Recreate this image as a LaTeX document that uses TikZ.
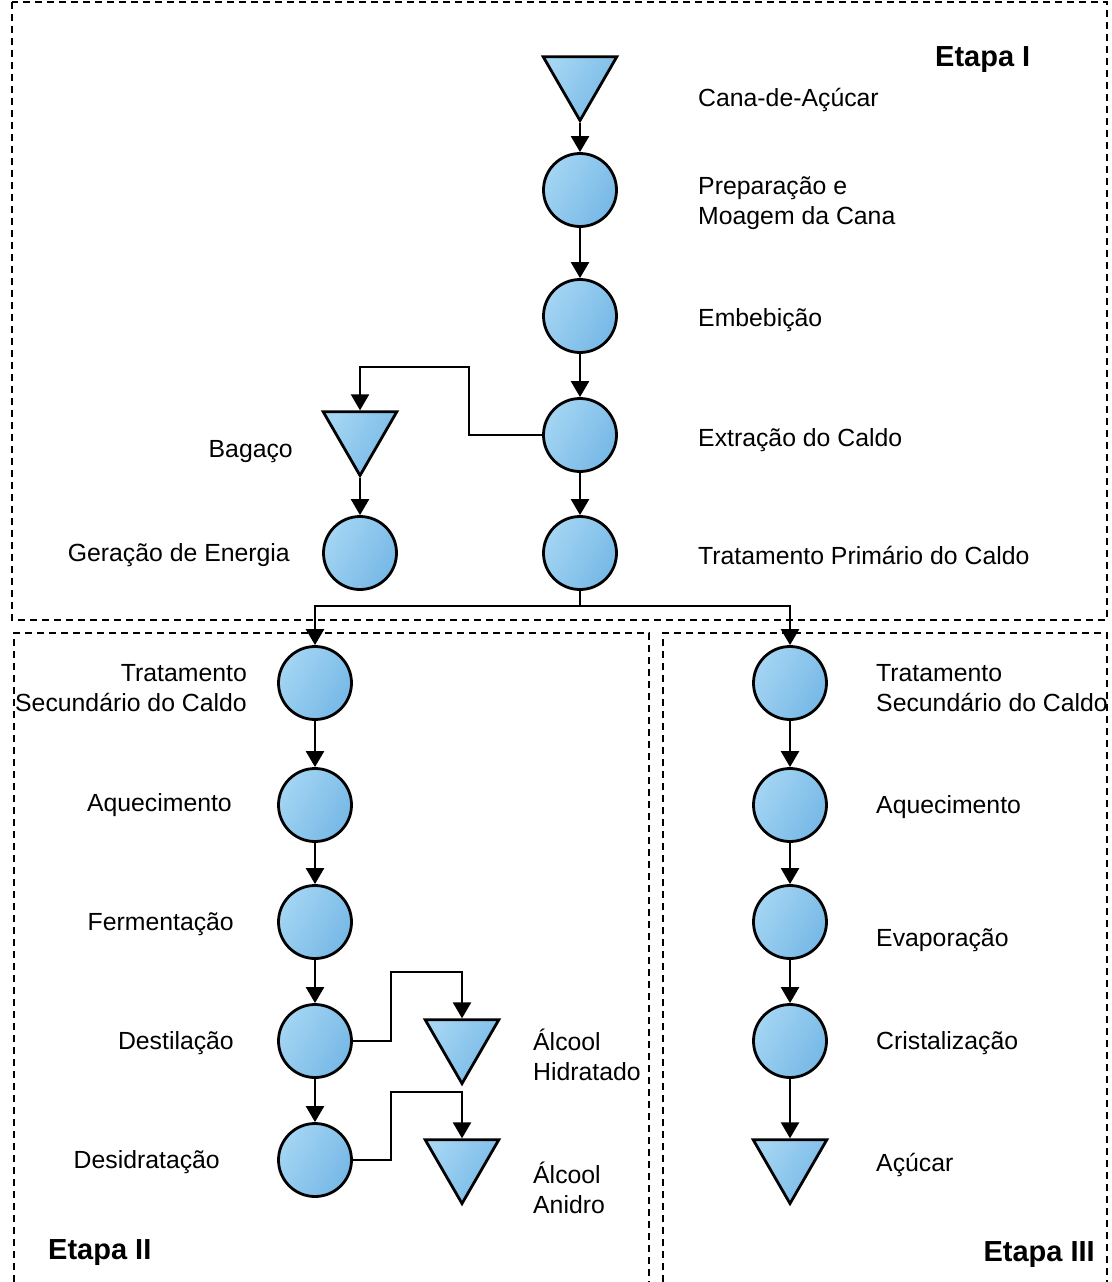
\documentclass[tikz,border=0pt]{standalone}
\usepackage{fontspec}
\setmainfont{Liberation Sans}
\usetikzlibrary{shapes.geometric,arrows.meta,positioning}
\definecolor{myblue}{RGB}{118,184,230}
\definecolor{mylightblue}{RGB}{164,213,243}

\begin{document}
\begin{tikzpicture}[x=1pt,y=-1pt,
  proc/.style={circle,draw,line width=2.8pt,minimum size=73pt,inner sep=0pt,
    left color=mylightblue,right color=myblue,shading angle=60},
  stock/.style={regular polygon,regular polygon sides=3,shape border rotate=180,
    draw,line width=2.8pt,minimum size=85pt,inner sep=0pt,
    left color=mylightblue,right color=myblue,shading angle=60},
  arr/.style={-{Triangle[width=18pt,length=16pt]},line width=2.4pt},
  lbl/.style={font=\fontsize{24.8}{30}\selectfont,align=left,anchor=west,inner sep=0pt},
  rlbl/.style={font=\fontsize{24.8}{30}\selectfont,align=right,anchor=east,inner sep=0pt},
  etapa/.style={font=\fontsize{29}{32}\selectfont\bfseries,inner sep=0pt},
  box/.style={dash pattern=on 7pt off 5pt,line width=2.4pt}]

  \useasboundingbox (0,0) rectangle (1111,1282);

  % dashed frames of the stages
  \draw[box] (12,2) rectangle (1107,620);
  \draw[box] (14,1282) |- (649,633) -- (649,1282);
  \draw[box] (663,1282) |- (1107,633) -- (1107,1282);

  % Etapa I
  \node[stock] (cana) at (580,78) {};
  \node[proc] (prep) at (580,190) {};
  \node[proc] (emb) at (580,316) {};
  \node[proc] (extr) at (580,435) {};
  \node[proc] (tp) at (580,553) {};
  \node[stock] (bag) at (360,433) {};
  \node[proc] (ger) at (360,553) {};

  \node[lbl] (l-cana) at (698,100) {Cana-de-Açúcar};
  \node[lbl] (l-prep) at (698,203) {Preparação e\\Moagem da Cana};
  \node[lbl] (l-emb) at (698,320) {Embebição};
  \node[lbl] (l-extr) at (698,440) {Extração do Caldo};
  \node[lbl] (l-tp) at (698,555) {Tratamento Primário do Caldo};
  \node[rlbl] (l-bag) at (293,452) {Bagaço};
  \node[rlbl] (l-ger) at (290,555) {Geração de Energia};
  \node[etapa,anchor=west] (e1) at (935,60) {Etapa I};

  % Etapa II
  \node[proc] (ts1) at (315,683) {};
  \node[proc] (aq1) at (315,805) {};
  \node[proc] (ferm) at (315,922) {};
  \node[proc] (dest) at (315,1041) {};
  \node[proc] (desid) at (315,1160) {};
  \node[stock] (ah) at (462,1041) {};
  \node[stock] (aa) at (462,1161) {};

  \node[rlbl] (l-ts1) at (247,688) {Tratamento\\Secundário do Caldo};
  \node[rlbl] (l-aq1) at (232,805) {Aquecimento};
  \node[rlbl] (l-ferm) at (234,924) {Fermentação};
  \node[rlbl] (l-dest) at (234,1043) {Destilação};
  \node[rlbl] (l-desid) at (220,1162) {Desidratação};
  \node[lbl] (l-ah) at (533,1055) {Álcool\\Hidratado};
  \node[lbl] (l-aa) at (533,1188) {Álcool\\Anidro};
  \node[etapa,anchor=west] (e2) at (48,1253) {Etapa II};

  % Etapa III
  \node[proc] (ts2) at (790,683) {};
  \node[proc] (aq2) at (790,805) {};
  \node[proc] (evap) at (790,922) {};
  \node[proc] (crist) at (790,1041) {};
  \node[stock] (acu) at (790,1161) {};

  \node[lbl] (l-ts2) at (876,688) {Tratamento\\Secundário do Caldo};
  \node[lbl] (l-aq2) at (876,807) {Aquecimento};
  \node[lbl] (l-evap) at (876,940) {Evaporação};
  \node[lbl] (l-crist) at (876,1043) {Cristalização};
  \node[lbl] (l-acu) at (876,1165) {Açúcar};
  \node[etapa,anchor=east] (e3) at (1095,1255) {Etapa III};

  % main line
  \draw[arr] (cana) -- (prep);
  \draw[arr] (prep) -- (emb);
  \draw[arr] (emb) -- (extr);
  \draw[arr] (extr) -- (tp);
  \draw[arr] (extr.west) -- ++(-73,0) |- ([yshift=66pt]bag.center) -- (bag);
  \draw[arr] (bag) -- (ger);

  % split to the two lines
  \coordinate (split) at ([yshift=-15pt]tp.south);
  \draw[line width=2.4pt] (tp) -- (split);
  \draw[arr] (split) -| (ts1.north);
  \draw[arr] (split) -| (ts2.north);

  % alcohol line
  \draw[arr] (ts1) -- (aq1);
  \draw[arr] (aq1) -- (ferm);
  \draw[arr] (ferm) -- (dest);
  \draw[arr] (dest) -- (desid);
  \draw[arr] (dest.east) -- ++(38,0) |- ([yshift=69pt]ah.center) -- (ah);
  \draw[arr] (desid.east) -- ++(38,0) |- ([yshift=69pt]aa.center) -- (aa);

  % sugar line
  \draw[arr] (ts2) -- (aq2);
  \draw[arr] (aq2) -- (evap);
  \draw[arr] (evap) -- (crist);
  \draw[arr] (crist) -- (acu);
\end{tikzpicture}
\end{document}
